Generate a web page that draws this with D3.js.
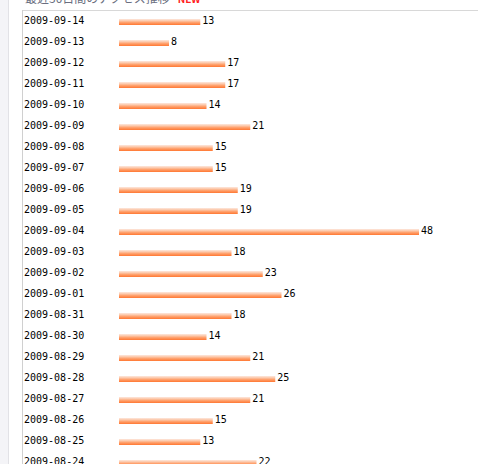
<!DOCTYPE html>
<html><head><meta charset="utf-8">
<script src="https://cdn.jsdelivr.net/npm/d3@7"></script>
<style>html,body{margin:0;padding:0;background:#fff;overflow:hidden}</style>
</head><body>
<script>
const dates = ["2009-09-14","2009-09-13","2009-09-12","2009-09-11","2009-09-10","2009-09-09","2009-09-08","2009-09-07","2009-09-06","2009-09-05","2009-09-04","2009-09-03","2009-09-02","2009-09-01","2009-08-31","2009-08-30","2009-08-29","2009-08-28","2009-08-27","2009-08-26","2009-08-25","2009-08-24"];
const counts = [13,8,17,17,14,21,15,15,19,19,48,18,23,26,18,14,21,25,21,15,13,22];
const title = "最近30日間のアクセス推移";
const badge = "NEW";

const W = 478, H = 464;
const svg = d3.select("body").append("svg").attr("width", W).attr("height", H);

const defs = svg.append("defs");
const g = defs.append("linearGradient").attr("id","barg").attr("x1",0).attr("y1",0).attr("x2",0).attr("y2",1);
[["0%","#fde8de"],["30%","#fcc8aa"],["60%","#ff9f6a"],["100%","#ff7732"]].forEach(([o,c]) =>
  g.append("stop").attr("offset",o).attr("stop-color",c));

// page chrome
svg.append("rect").attr("x",0).attr("y",0).attr("width",8).attr("height",H).attr("fill","#f4f4f7");
svg.append("line").attr("x1",8.5).attr("x2",8.5).attr("y1",0).attr("y2",H).attr("stroke","#e2e2e6");
svg.append("line").attr("x1",22).attr("x2",W).attr("y1",10.5).attr("y2",10.5).attr("stroke","#d8d8d8");
svg.append("line").attr("x1",22.5).attr("x2",22.5).attr("y1",10).attr("y2",H).attr("stroke","#d0d0d0");

// clipped heading
const ht = svg.append("text").attr("x",25).attr("y",2.5)
  .attr("font-family","'Noto Sans CJK JP', sans-serif").attr("font-size",12).attr("fill","#6a6f80");
ht.append("tspan").text(title);
ht.append("tspan").attr("dx",8).attr("fill","#ff2020").attr("font-weight","bold").attr("font-size",10).text(badge);

const x = d3.scaleLinear().domain([0,48]).range([119,419]);
const y = d3.scaleBand().domain(dates).range([2, 2 + 21*dates.length]).paddingInner(0);

const rows = svg.append("g").selectAll("g").data(dates).join("g")
  .attr("transform", d => `translate(0,${y(d) + 21.5})`);

rows.append("text").attr("x",24).attr("y",0)
  .attr("font-family","'DejaVu Sans Mono', monospace").attr("font-size",10).attr("fill","#000")
  .text(d => d);

rows.append("rect").attr("x", x(0)).attr("y",-4.5)
  .attr("width", (d,i) => x(counts[i]) - x(0)).attr("height",6)
  .attr("fill","url(#barg)");

rows.append("text").attr("x",(d,i) => x(counts[i]) + 2).attr("y",0.5)
  .attr("font-family","'DejaVu Sans Mono', monospace").attr("font-size",10).attr("fill","#000")
  .text((d,i) => counts[i]);
</script>
</body></html>
